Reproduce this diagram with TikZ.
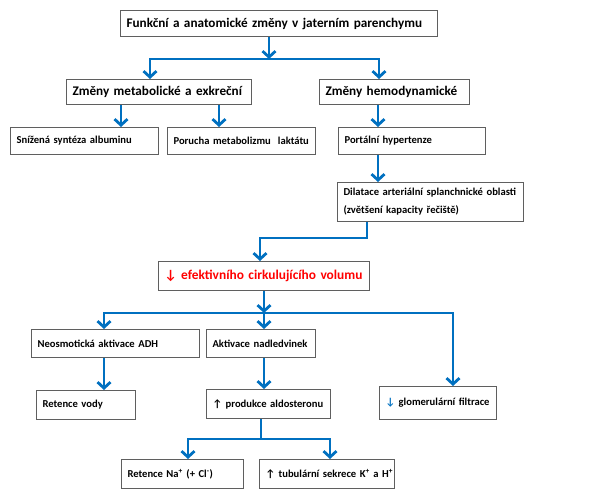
\documentclass[tikz,border=0pt]{standalone}
\usepackage{fontspec}
\setmainfont{Carlito}
\usetikzlibrary{arrows.meta}
\definecolor{flowblue}{RGB}{0,112,192}
\definecolor{boxgray}{RGB}{95,95,95}

\begin{document}
\begin{tikzpicture}[x=1pt,y=-1pt,font=\bfseries,>={Straight Barb[length=6pt,width=13pt]},box/.style={draw=boxgray, line width=1.1pt, anchor=north west, align=left, inner xsep=6pt, inner ysep=0pt},big/.style={font=\fontsize{13.2}{15}\selectfont\bfseries},small/.style={font=\fontsize{10.6}{18}\selectfont\bfseries},arrow/.style={->, flowblue, line width=2.8pt},both/.style={<->, flowblue, line width=2.8pt},link/.style={flowblue, line width=2.8pt}]
\useasboundingbox (0,0) rectangle (598,490);
\node[box, big, text width=305pt, minimum height=26pt] (top) at (120,10) {Funkční a anatomické změny v jaterním parenchymu};
\node[box, big, text width=173pt, minimum height=25pt] (met) at (66,79) {Změny metabolické a exkreční};
\node[box, big, text width=138pt, minimum height=25pt] (hemo) at (319,79) {Změny hemodynamické};
\node[box, small, text width=136pt, minimum height=27pt] (alb) at (10,127) {Snížená syntéza albuminu};
\node[box, small, text width=136pt, minimum height=27pt] (lakt) at (167,127) {Porucha metabolizmu\ \ laktátu};
\node[box, small, text width=135pt, minimum height=27pt] (port) at (338,127) {Portální hypertenze};
\node[box, small, text width=174pt, minimum height=39pt] (dil) at (337,182) {Dilatace arteriální splanchnické oblasti\\(zvětšení kapacity řečiště)};
\node[box, font=\fontsize{13.4}{15}\selectfont\bfseries, text=red, text width=199pt, minimum height=29pt] (vol) at (158,261) {↓ efektivního cirkulujícího volumu};
\node[box, small, text width=156pt, minimum height=28pt] (adh) at (31,329) {Neosmotická aktivace ADH};
\node[box, small, text width=97pt, minimum height=28pt] (nadl) at (206,329) {Aktivace nadledvinek};
\node[box, small, text width=87pt, minimum height=29pt] (voda) at (36,390) {Retence vody};
\node[box, small, text width=112pt, minimum height=29pt] (aldo) at (206,389) {↑ produkce aldosteronu};
\node[box, small, text width=105pt, minimum height=33pt] (glom) at (379,386) {\textcolor{flowblue}{↓} glomerulární filtrace};
\node[box, small, text width=110pt, minimum height=29pt] (na) at (121,459) {Retence Na\textsuperscript{+} (+ Cl\textsuperscript{-})};
\node[box, small, text width=123pt, minimum height=29pt] (tub) at (259,459) {\mbox{↑ tubulární sekrece K\textsuperscript{+} a H\textsuperscript{+}}};
\coordinate (t0) at (269,59);\coordinate (tL) at (150,59);\coordinate (tR) at (379,59);
\draw[arrow] (t0 |- top.south) -- (t0);\draw[both] (tL |- met.north) -- (tL) -- (tR) -- (tR |- hemo.north);
\coordinate (m1) at (121,0);\coordinate (m2) at (219,0);\coordinate (h1) at (378,0);
\draw[arrow] (m1 |- met.south) -- (m1 |- alb.north);\draw[arrow] (m2 |- met.south) -- (m2 |- lakt.north);
\draw[arrow] (h1 |- hemo.south) -- (h1 |- port.north);\draw[arrow] (h1 |- port.south) -- (h1 |- dil.north);
\coordinate (d1) at (367,238);\coordinate (d2) at (260,238);
\draw[arrow] (d1 |- dil.south) -- (d1) -- (d2) -- (d2 |- vol.north);
\coordinate (s0) at (264,313);\coordinate (sL) at (104,313);\coordinate (sR) at (453,313);
\draw[arrow] (s0 |- vol.south) -- (s0);\draw[arrow] (s0) -- (s0 |- nadl.north);
\draw[both] (sL |- adh.north) -- (sL) -- (sR) -- (sR |- glom.north);
\draw[arrow] (sL |- adh.south) -- (sL |- voda.north);\draw[arrow] (s0 |- nadl.south) -- (s0 |- aldo.north);
\coordinate (p0) at (261,439);\coordinate (pL) at (188,439);\coordinate (pR) at (330,439);
\draw[link] (p0 |- aldo.south) -- (p0);\draw[both] (pL |- na.north) -- (pL) -- (pR) -- (pR |- tub.north);
\end{tikzpicture}
\end{document}
